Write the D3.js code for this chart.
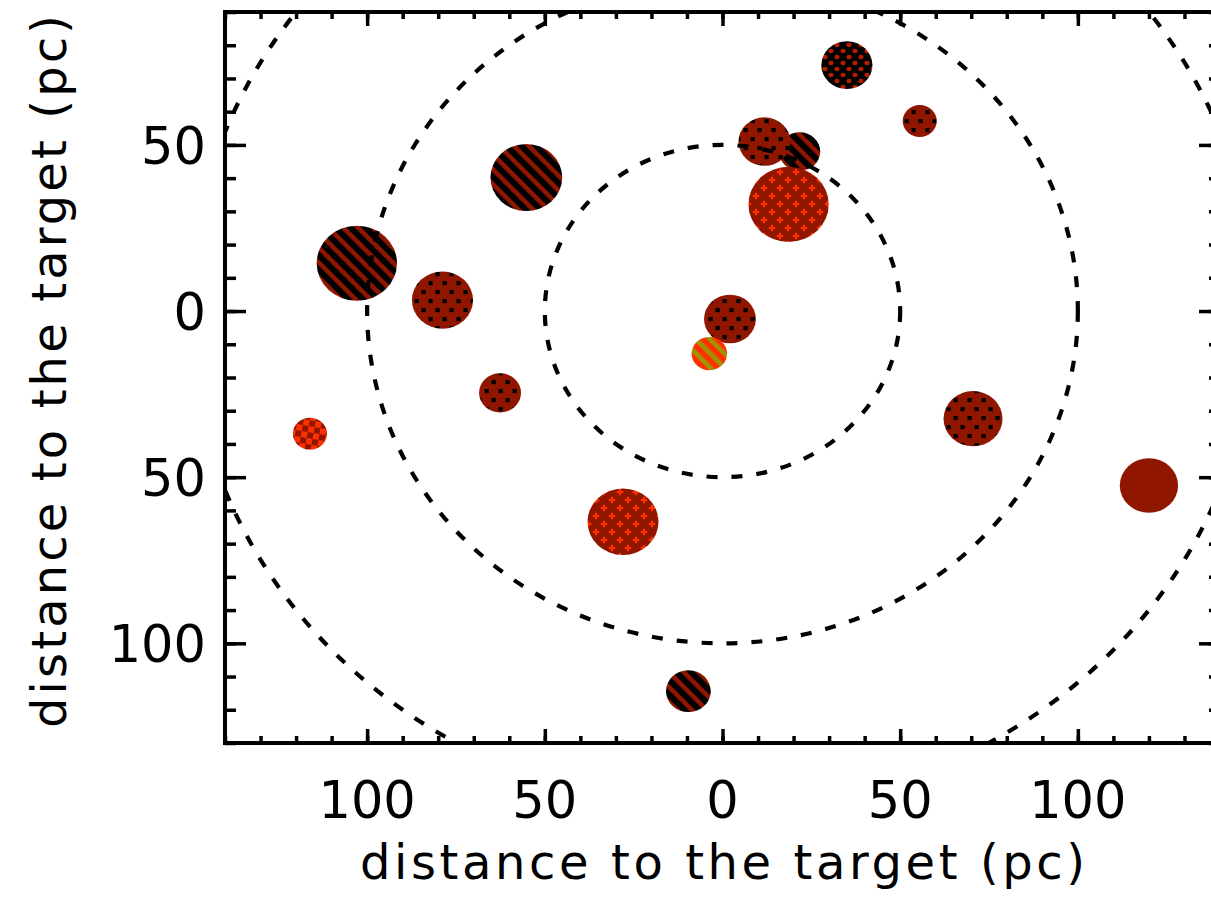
<!DOCTYPE html>
<html>
<head>
<meta charset="utf-8">
<script src="https://cdn.jsdelivr.net/npm/d3@7"></script>
<style>
  html, body { margin: 0; padding: 0; background: #fff; }
  svg { display: block; }
  text { font-family: "DejaVu Sans", "Liberation Sans", Arial, sans-serif; fill: #000; }
</style>
</head>
<body>
<svg id="chart" width="1211" height="897"></svg>
<script>
// Cloud positions relative to the target (pc), radius (pc) and fill style, in draw order
const cloudX    = [-102.9, -78.8, -55.2, -62.6, -116.1, -28.0, -9.6, 2.1, -3.7, 21.7, 11.8, 18.6, 35.0, 55.5, 70.5, 120.0];
const cloudY    = [  14.4,   3.3,  40.2, -24.6,  -36.9, -63.4, -114.4, -2.4, -12.8, 48.0, 51.0, 32.1, 74.0, 57.2, -32.4, -52.5];
const cloudR    = [  11.3,   8.6,  10.1,   5.9,    4.8,  10.0,   6.3, 7.3,  5.0,  5.8,  7.3, 11.3,  7.2,  4.8,   8.3,   8.2];
const cloudFill = ["stripes", "dots", "stripes", "dots", "checker", "plus", "stripes", "dots", "olive",
                   "stripes", "dots", "plus", "reddots", "dots", "dots", "solid"];

// Distance rings around the target (pc)
const ringRadii = [50, 100, 150];

// Axis ticks
const xMajorTicks = [-100, -50, 0, 50, 100];
const yMajorTicks = [50, 0, -50, -100];
const xLabel = "distance to the target (pc)";
const yLabel = "distance to the target (pc)";

const svg = d3.select("#chart");
const W = 1211, H = 897;
svg.append("rect").attr("width", W).attr("height", H).attr("fill", "#fff");

const plot = { left: 225, right: 1220, top: 12, bottom: 743 };
const x = d3.scaleLinear().domain([-140, 140]).range([plot.left, plot.right]);
const y = d3.scaleLinear().domain([-130, 90]).range([plot.bottom, plot.top]);

const darkRed = "#901600";
const brightRed = "#ff3000";
const olive = "#9d9600";

// ---- fill patterns ----
const defs = svg.append("defs");

function pattern(id, w, h, rotate) {
  const p = defs.append("pattern").attr("id", id)
    .attr("patternUnits", "userSpaceOnUse").attr("width", w).attr("height", h);
  if (rotate) p.attr("patternTransform", `rotate(${rotate})`);
  return p;
}

// black diagonal hatching on dark red
let p = pattern("stripes", 10.5, 10.5, -45);
p.append("rect").attr("width", 10.5).attr("height", 10.5).attr("fill", darkRed);
p.append("rect").attr("width", 6).attr("height", 10.5).attr("fill", "#000");

// olive diagonal hatching on bright red
p = pattern("olive", 10, 10, -45);
p.append("rect").attr("width", 10).attr("height", 10).attr("fill", brightRed);
p.append("rect").attr("width", 4.5).attr("height", 10).attr("fill", olive);

// staggered black dots on dark red
p = pattern("dots", 14, 18);
p.append("rect").attr("width", 14).attr("height", 18).attr("fill", darkRed);
p.append("rect").attr("x", 1.5).attr("y", 2).attr("width", 4.2).attr("height", 4.2).attr("fill", "#000");
p.append("rect").attr("x", 8.5).attr("y", 11).attr("width", 4.2).attr("height", 4.2).attr("fill", "#000");

// red dots on black
p = pattern("reddots", 12, 12);
p.append("rect").attr("width", 12).attr("height", 12).attr("fill", "#000");
p.append("ellipse").attr("cx", 3).attr("cy", 3).attr("rx", 2.6).attr("ry", 2.2).attr("fill", "#b81c00");
p.append("ellipse").attr("cx", 9).attr("cy", 9).attr("rx", 2.6).attr("ry", 2.2).attr("fill", "#b81c00");

// bright red plus signs on dark red
p = pattern("plus", 16, 16);
p.append("rect").attr("width", 16).attr("height", 16).attr("fill", darkRed);
[[4, 4], [12, 12]].forEach(([cx, cy]) => {
  p.append("rect").attr("x", cx - 3.2).attr("y", cy - 1.1).attr("width", 6.4).attr("height", 2.2).attr("fill", brightRed);
  p.append("rect").attr("x", cx - 1.1).attr("y", cy - 3.2).attr("width", 2.2).attr("height", 6.4).attr("fill", brightRed);
});

// bright red checks on dark red
p = pattern("checker", 12, 12, 10);
p.append("rect").attr("width", 12).attr("height", 12).attr("fill", darkRed);
p.append("rect").attr("x", 0).attr("y", 0).attr("width", 6).attr("height", 6).attr("fill", brightRed);
p.append("rect").attr("x", 6).attr("y", 6).attr("width", 6).attr("height", 6).attr("fill", brightRed);

const fillFor = k => k === "solid" ? darkRed : `url(#${k})`;

defs.append("clipPath").attr("id", "plotClip")
  .append("rect")
  .attr("x", plot.left).attr("y", plot.top)
  .attr("width", plot.right - plot.left).attr("height", plot.bottom - plot.top);

// ---- clouds ----
const clouds = cloudX.map((cx, i) => ({ x: cx, y: cloudY[i], r: cloudR[i], fill: cloudFill[i] }));
const g = svg.append("g").attr("clip-path", "url(#plotClip)");
g.selectAll("ellipse.cloud").data(clouds).enter().append("ellipse")
  .attr("class", "cloud")
  .attr("cx", d => x(d.x))
  .attr("cy", d => y(d.y))
  .attr("rx", d => x(d.r) - x(0))
  .attr("ry", d => y(0) - y(d.r))
  .attr("fill", d => fillFor(d.fill));

// ---- dashed distance rings ----
g.selectAll("ellipse.ring").data(ringRadii).enter().append("ellipse")
  .attr("class", "ring")
  .attr("cx", x(0)).attr("cy", y(0))
  .attr("rx", r => x(r) - x(0))
  .attr("ry", r => y(0) - y(r))
  .attr("fill", "none")
  .attr("stroke", "#000")
  .attr("stroke-width", 4.2)
  .attr("stroke-dasharray", "11,14");

// ---- axes ----
const xMinor = d3.range(-140, 141, 10);
const yMinor = d3.range(-130, 91, 10);

function ticks(axis, translate, vals, size) {
  const a = svg.append("g").attr("transform", translate)
    .call(axis.tickValues(vals).tickSize(size).tickSizeOuter(0).tickFormat(""));
  a.select(".domain").remove();
  a.selectAll("line").attr("stroke", "#000").attr("stroke-width", 3.5);
  return a;
}
ticks(d3.axisBottom(x), `translate(0,${plot.bottom})`, xMinor, -7);
ticks(d3.axisBottom(x), `translate(0,${plot.bottom})`, xMajorTicks, -14);
ticks(d3.axisTop(x), `translate(0,${plot.top})`, xMinor, -7);
ticks(d3.axisTop(x), `translate(0,${plot.top})`, xMajorTicks, -14);
ticks(d3.axisLeft(y), `translate(${plot.left},0)`, yMinor, -11);
ticks(d3.axisLeft(y), `translate(${plot.left},0)`, yMajorTicks, -21);
ticks(d3.axisRight(y), `translate(${plot.right},0)`, yMinor, -11);
ticks(d3.axisRight(y), `translate(${plot.right},0)`, yMajorTicks, -21);

// frame
svg.append("rect")
  .attr("x", plot.left).attr("y", plot.top)
  .attr("width", plot.right - plot.left).attr("height", plot.bottom - plot.top)
  .attr("fill", "none").attr("stroke", "#000").attr("stroke-width", 4);

// tick labels
svg.append("g").selectAll("text").data(xMajorTicks).enter().append("text")
  .attr("x", d => x(d)).attr("y", 818)
  .attr("text-anchor", "middle")
  .attr("font-size", 51)
  .text(d => Math.abs(d));

svg.append("g").selectAll("text").data(yMajorTicks).enter().append("text")
  .attr("x", 206).attr("y", d => y(d) + 19)
  .attr("text-anchor", "end")
  .attr("font-size", 51)
  .text(d => Math.abs(d));

// axis titles
svg.append("text")
  .attr("x", 360).attr("y", 879)
  .attr("font-size", 48)
  .attr("textLength", 725).attr("lengthAdjust", "spacing")
  .text(xLabel);

svg.append("text")
  .attr("transform", "translate(66,728) rotate(-90)")
  .attr("font-size", 48)
  .attr("textLength", 713).attr("lengthAdjust", "spacing")
  .text(yLabel);
</script>
</body>
</html>
